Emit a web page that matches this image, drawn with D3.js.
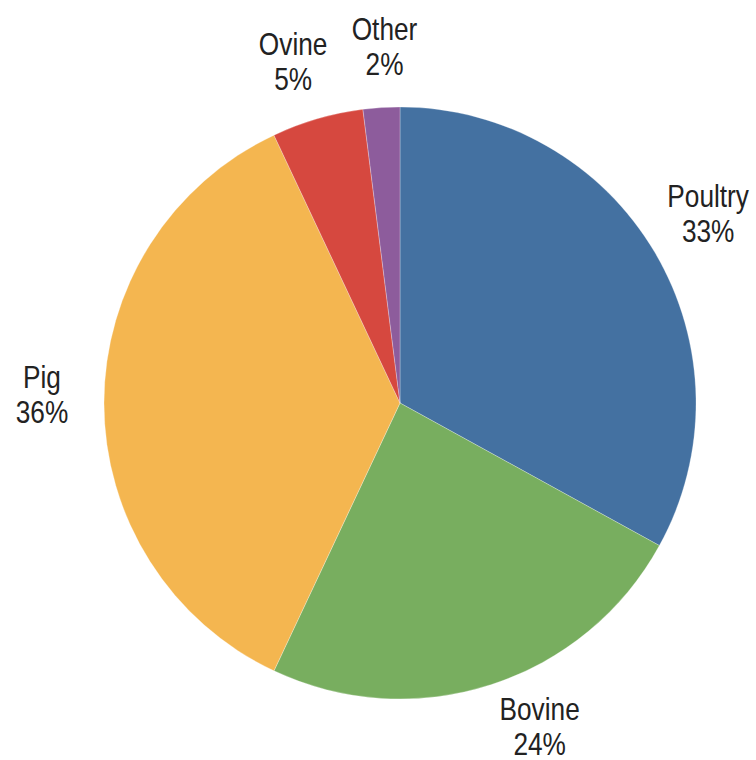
<!DOCTYPE html>
<html>
<head>
<meta charset="utf-8">
<script src="https://cdn.jsdelivr.net/npm/d3@7"></script>
<style>
  html, body { margin: 0; padding: 0; background: #fff; }
  svg text {
    font-family: "Liberation Sans", Arial, sans-serif;
    fill: #222;
  }
</style>
</head>
<body>
<svg id="chart" width="756" height="760"></svg>
<script>
// Meat production shares by species
const categories = ["Poultry", "Bovine", "Pig", "Ovine", "Other"];
const shares = [33, 24, 36, 5, 2];
const colors = ["#4471a1", "#78ae5f", "#f4b650", "#d6483f", "#8d5c9c"];

const width = 756, height = 760;
const cx = 400, cy = 403, radius = 296, labelRadius = 358;
const fontSize = 32, lineGap = 35, condense = 0.82;

const data = categories.map((c, i) => ({ name: c, value: shares[i], color: colors[i] }));

const svg = d3.select("#chart");
const g = svg.append("g").attr("transform", `translate(${cx},${cy})`);

const pie = d3.pie().value(d => d.value).sort(null);
const arc = d3.arc().innerRadius(0).outerRadius(radius);
const labelArc = d3.arc().innerRadius(labelRadius).outerRadius(labelRadius);

const arcs = pie(data);

g.selectAll("path.slice")
  .data(arcs)
  .enter().append("path")
  .attr("class", "slice")
  .attr("d", arc)
  .attr("fill", d => d.data.color)
  .attr("stroke", "#ffffff")
  .attr("stroke-opacity", 0.45)
  .attr("stroke-width", 0.6);

// Offsets of each label's first baseline from its centroid on the label ring
const nudge = { Poultry: [0, -14], Bovine: [29, -23], Pig: [0, -15], Ovine: [-7, -4], Other: [7, -6] };

const labels = g.selectAll("text.label")
  .data(arcs)
  .enter().append("text")
  .attr("class", "label")
  .attr("text-anchor", "middle")
  .attr("font-size", fontSize)
  .attr("transform", d => {
    const [x, y] = labelArc.centroid(d);
    const n = nudge[d.data.name] || [0, 0];
    return `translate(${x + n[0]},${y + n[1]}) scale(${condense},1)`;
  });

labels.append("tspan")
  .attr("x", 0)
  .attr("y", 0)
  .text(d => d.data.name);

labels.append("tspan")
  .attr("x", 0)
  .attr("y", lineGap)
  .text(d => d3.format("d")(d.data.value) + "%");
</script>
</body>
</html>
